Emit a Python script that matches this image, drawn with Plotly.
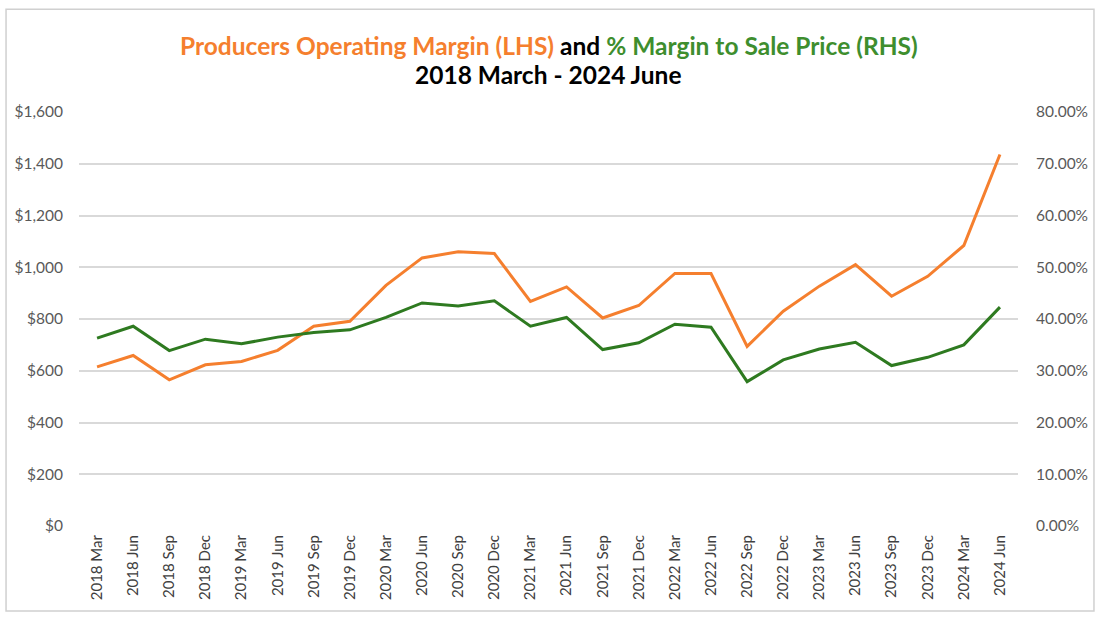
import plotly.graph_objects as go

quarters = ["2018 Mar","2018 Jun","2018 Sep","2018 Dec","2019 Mar","2019 Jun","2019 Sep","2019 Dec",
            "2020 Mar","2020 Jun","2020 Sep","2020 Dec","2021 Mar","2021 Jun","2021 Sep","2021 Dec",
            "2022 Mar","2022 Jun","2022 Sep","2022 Dec","2023 Mar","2023 Jun","2023 Sep","2023 Dec",
            "2024 Mar","2024 Jun"]
operating_margin = [615, 659, 565, 623, 636, 679, 772, 791,
                    930, 1036, 1060, 1053, 868, 924, 804, 852,
                    976, 976, 694, 830, 927, 1010, 888, 965,
                    1084, 1436]
pct_margin = [0.363, 0.386, 0.339, 0.361, 0.352, 0.365, 0.374, 0.379,
              0.403, 0.431, 0.425, 0.435, 0.386, 0.403, 0.341, 0.354,
              0.390, 0.384, 0.279, 0.321, 0.342, 0.355, 0.310, 0.326,
              0.350, 0.423]

ORANGE = "#F57F2E"
GREEN = "#2E7A20"
TXT = "#595959"

title_line1 = ("<span style='color:" + ORANGE + "'>Producers Operating Margin (LHS)</span> "
               "<span style='color:#000000'>and</span> "
               "<span style='color:#3E8E2E'>% Margin to Sale Price (RHS)</span>")
title_line2 = "2018 March - 2024 June"

fig = go.Figure()
fig.add_trace(go.Scatter(x=quarters, y=operating_margin, mode="lines", name="Producers Operating Margin",
                         line=dict(color=ORANGE, width=3), yaxis="y"))
fig.add_trace(go.Scatter(x=quarters, y=pct_margin, mode="lines", name="% Margin to Sale Price",
                         line=dict(color=GREEN, width=3), yaxis="y2"))

fig.update_layout(
    width=1100, height=620,
    paper_bgcolor="white", plot_bgcolor="white",
    margin=dict(l=79, r=82, t=112, b=94, autoexpand=False),
    showlegend=False,
    font=dict(family="Lato, Open Sans, sans-serif", color=TXT, size=13),
    xaxis=dict(type="category", range=[-0.5, len(quarters) - 0.5], tickangle=-90,
               showgrid=False, showline=False, ticks="",
               tickfont=dict(size=15, color="#404040"), ticklabelstandoff=5, fixedrange=True),
    yaxis=dict(range=[0, 1600], dtick=200, tickprefix="$", tickformat=",", showgrid=True,
               gridcolor="#D9D9D9", gridwidth=1.5, zeroline=False, showline=False, ticks="",
               tickfont=dict(size=15.5, color=TXT), ticklabelstandoff=15),
    yaxis2=dict(range=[0, 0.8], dtick=0.1, tickformat=".2%", overlaying="y", side="right",
                showgrid=False, zeroline=False, showline=False, ticks="",
                tickfont=dict(size=15.5, color=TXT), ticklabelstandoff=17),
)

fig.add_annotation(text=title_line1, xref="paper", yref="paper", x=0.5, y=1.1618,
                   xanchor="center", yanchor="middle", showarrow=False,
                   font=dict(family="Lato, sans-serif", size=24.5, weight="bold"))
fig.add_annotation(text=title_line2, xref="paper", yref="paper", x=0.5, y=1.0894,
                   xanchor="center", yanchor="middle", showarrow=False,
                   font=dict(family="Lato, sans-serif", size=24.5, weight="bold", color="#000000"))

fig.add_shape(type="rect", xref="paper", yref="paper",
              x0=-0.0777, x1=1.0809, y0=-0.2056, y1=1.248,
              line=dict(color="#D0D0D0", width=1.5), fillcolor="rgba(0,0,0,0)", layer="below")

fig.write_html("out.html", config={"displayModeBar": False},
               post_script="document.body.style.margin='0';")
